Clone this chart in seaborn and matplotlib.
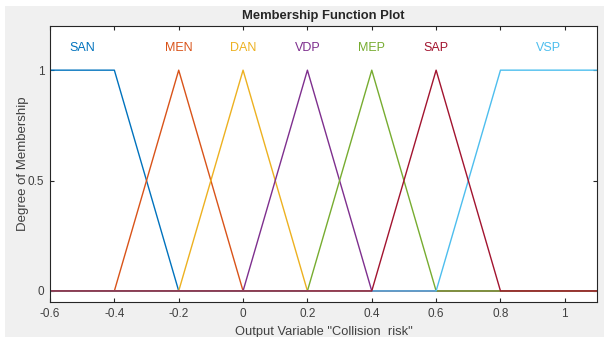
import numpy as np
import pandas as pd
import matplotlib
matplotlib.use("Agg")
import matplotlib.pyplot as plt
import seaborn as sns
from matplotlib.patches import Rectangle

# ---- data ----
x_range = [-0.6, 1.1]
mf_names = ["SAN", "MEN", "DAN", "VDP", "MEP", "VSP", "SAP"]          # drawing order
mf_params = {
    "SAN": [-0.8, -0.6, -0.4, -0.2],   # trapmf
    "MEN": [-0.4, -0.2, 0.0],          # trimf
    "DAN": [-0.2, 0.0, 0.2],
    "VDP": [0.0, 0.2, 0.4],
    "MEP": [0.2, 0.4, 0.6],
    "VSP": [0.6, 0.8, 1.1, 1.3],       # trapmf
    "SAP": [0.4, 0.6, 0.8],
}
mf_colors = {
    "SAN": "#0072BD", "MEN": "#D95319", "DAN": "#EDB120", "VDP": "#7E2F8E",
    "MEP": "#77AC30", "VSP": "#4DBEEE", "SAP": "#A2142F",
}
label_x = {"SAN": -0.5, "MEN": -0.2, "DAN": 0.0, "VDP": 0.2,
           "MEP": 0.4, "SAP": 0.6, "VSP": 0.95}
x_ticks = [-0.6, -0.4, -0.2, 0, 0.2, 0.4, 0.6, 0.8, 1]
x_ticklabels = ["-0.6", "-0.4", "-0.2", "0", "0.2", "0.4", "0.6", "0.8", "1"]
y_ticks = [0, 0.5, 1]
y_ticklabels = ["0", "0.5", "1"]


def mf_eval(x, p):
    x = np.asarray(x, float)
    if len(p) == 3:
        a, b, c = p
        p = [a, b, b, c]
    a, b, c, d = p
    y = np.zeros_like(x)
    up = (x > a) & (x < b)
    y[up] = (x[up] - a) / (b - a)
    y[(x >= b) & (x <= c)] = 1.0
    dn = (x > c) & (x < d)
    y[dn] = (d - x[dn]) / (d - c)
    return y


rows = []
for name in mf_names:
    p = mf_params[name]
    xs = sorted(set([x_range[0], x_range[1]] + [v for v in p if x_range[0] <= v <= x_range[1]]))
    ys = mf_eval(xs, p)
    for xv, yv in zip(xs, ys):
        rows.append({"x": xv, "y": yv, "mf": name})
df = pd.DataFrame(rows)

sns.set_theme(style="white")
plt.rcParams["font.family"] = ["Liberation Sans", "DejaVu Sans"]

fig = plt.figure(figsize=(6.04, 3.37), dpi=100)
fig.patch.set_facecolor("#f0f0f0")
fig.add_artist(Rectangle((0, 1 - 6 / 337), 1, 6 / 337, transform=fig.transFigure,
                         facecolor="white", edgecolor="none", zorder=0))
fig.add_artist(Rectangle((0, 0), 5 / 604, 1, transform=fig.transFigure,
                         facecolor="white", edgecolor="none", zorder=0))

ax = fig.add_axes([50 / 604, 35 / 337, 547 / 604, 276 / 337])
ax.set_facecolor("white")

sns.lineplot(data=df, x="x", y="y", hue="mf", hue_order=mf_names,
             palette=mf_colors, estimator=None, sort=False, linewidth=1.0,
             legend=False, ax=ax)

for name in mf_names:
    ax.text(label_x[name], 1.1, name, color=mf_colors[name], ha="center",
            va="center", fontsize=9)

ax.set_xlim(x_range)
ax.set_ylim(-0.05, 1.2)
ax.set_xticks(x_ticks)
ax.set_xticklabels(x_ticklabels)
ax.set_yticks(y_ticks)
ax.set_yticklabels(y_ticklabels)
ax.tick_params(direction="in", length=3, width=0.8, colors="#262626",
               labelcolor="#404040", labelsize=8.5, top=True, right=True,
               bottom=True, left=True, pad=4)
for s in ax.spines.values():
    s.set_color("#262626")
    s.set_linewidth(0.8)
    s.set_visible(True)

ax.set_xlabel('Output Variable "Collision  risk"', fontsize=9.3, color="#404040", labelpad=5)
ax.set_ylabel("Degree of Membership", fontsize=9.5, color="#404040", labelpad=-1)
ax.set_title("Membership Function Plot", fontsize=9.4, fontweight="bold",
             color="#262626", pad=5)

fig.savefig("out.png", dpi=100, facecolor=fig.get_facecolor())
